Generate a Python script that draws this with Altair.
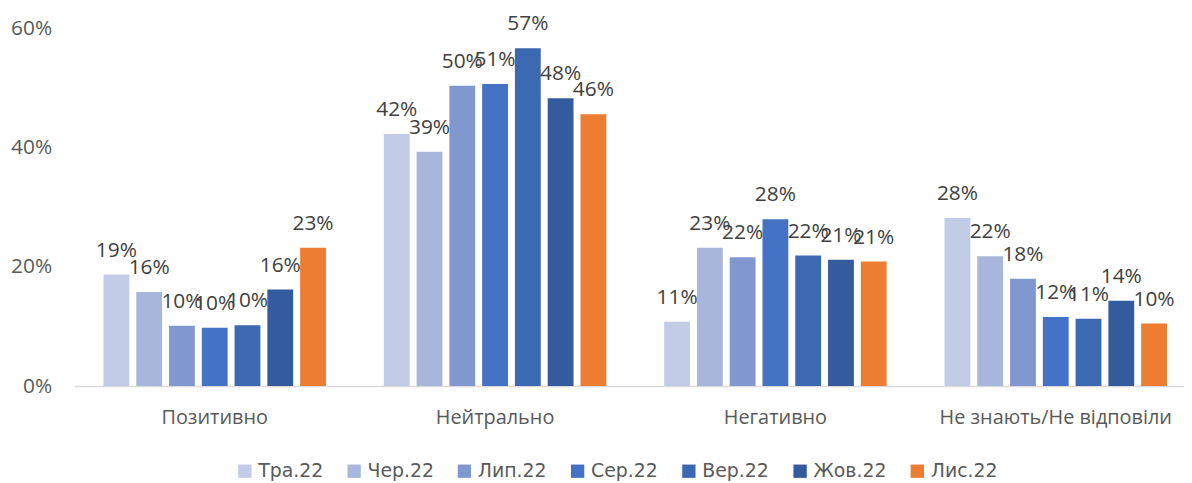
import altair as alt
import pandas as pd

categories = ["Позитивно", "Нейтрально", "Негативно", "Не знають/Не відповіли"]
months = ["Тра.22", "Чер.22", "Лип.22", "Сер.22", "Вер.22", "Жов.22", "Лис.22"]
colors = ["#C3CCE6", "#A8B6DB", "#8098CE", "#4472C4", "#3D68B2", "#345B9D", "#ED7D31"]

tra = [18.7, 42.3, 10.8, 28.2]
cher = [15.8, 39.3, 23.2, 21.8]
lyp = [10.1, 50.4, 21.6, 18.0]
ser = [9.8, 50.7, 28.0, 11.6]
ver = [10.2, 56.7, 21.9, 11.3]
zhov = [16.2, 48.3, 21.2, 14.3]
lys = [23.2, 45.6, 20.9, 10.5]
series = [tra, cher, lyp, ser, ver, zhov, lys]

rows = []
for m, vals in zip(months, series):
    for c, v in zip(categories, vals):
        rows.append({"cat": c, "month": m, "value": v, "label": f"{round(v)}%"})
df = pd.DataFrame(rows)

FONT = "Open Sans"

base = alt.Chart(df).encode(
    x=alt.X(
        "cat:N",
        sort=categories,
        scale=alt.Scale(range=[0, 1129], paddingInner=0, paddingOuter=0),
        axis=alt.Axis(
            title=None, labelAngle=0, ticks=False, domainColor="#D9D9D9",
            domainWidth=1.5, labelFontSize=20, labelColor="#595959",
            labelPadding=22, labelFont=FONT, labelLimit=0,
        ),
    ),
    xOffset=alt.XOffset(
        "month:N", sort=months,
        scale=alt.Scale(paddingInner=0.212, paddingOuter=0.883),
    ),
    y=alt.Y(
        "value:Q",
        scale=alt.Scale(domain=[0, 60]),
        axis=alt.Axis(
            values=[0, 20, 40, 60], labelExpr="datum.value + '%'", domain=False,
            ticks=False, grid=False, title=None, labelFontSize=21,
            labelColor="#595959", labelPadding=23, labelFont=FONT,
        ),
    ),
)

bars = base.mark_bar().encode(
    color=alt.Color(
        "month:N", sort=months,
        scale=alt.Scale(domain=months, range=colors),
        legend=alt.Legend(
            orient="none", legendX=162, legendY=436, direction="horizontal",
            title=None, symbolType="square",
            symbolSize=180, symbolStrokeWidth=0, symbolOpacity=1,
            labelFontSize=19, labelColor="#595959", labelOffset=4,
            columnPadding=21, labelFont="DejaVu Sans",
        ),
    )
)

text = base.mark_text(
    dy=-18, baseline="alphabetic", fontSize=21, color="#404040", font=FONT
).encode(text="label:N")

chart = (
    (bars + text)
    .properties(
        width=1117, height=360,
        autosize=alt.AutoSizeParams(type="none"),
        padding={"left": 67, "top": 19, "right": 0, "bottom": 96},
    )
    .configure_view(stroke=None)
)

chart.save("out.html", embed_options={"renderer": "svg", "actions": False})
